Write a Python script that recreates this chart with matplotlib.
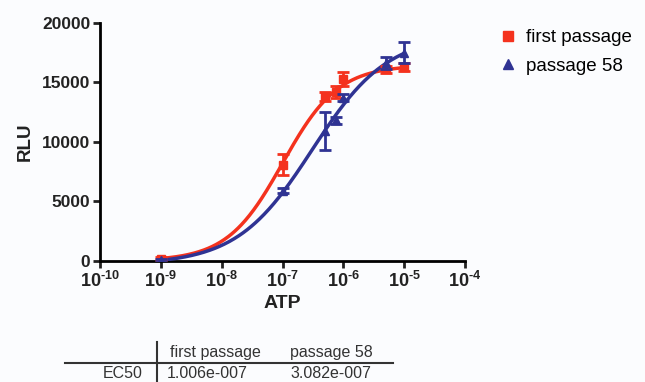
import numpy as np
import matplotlib
matplotlib.use("Agg")
import matplotlib.pyplot as plt
from matplotlib.lines import Line2D

plt.rcParams['font.family'] = ['Liberation Sans', 'DejaVu Sans']
plt.rcParams['mathtext.fontset'] = 'custom'
plt.rcParams['mathtext.rm'] = 'Liberation Sans:bold'
plt.rcParams['mathtext.bf'] = 'Liberation Sans:bold'

# measured points (ATP in M)
atp = [1e-9, 1e-7, 5e-7, 7.5e-7, 1e-6, 5e-6, 1e-5]
first_rlu = [200, 8100, 13800, 14200, 15300, 16100, 16300]
first_err = [150, 900, 400, 500, 600, 300, 300]
p58_rlu = [50, 5900, 10900, 11800, 13700, 16600, 17500]
p58_err = [100, 200, 1600, 300, 300, 500, 900]

# fitted dose-response parameters (bottom, top, hill, EC50)
first_fit = (0, 16450, 0.95, 1.006e-7)
p58_fit = (-300, 19000, 0.7, 3.082e-7)

xticks = [1e-10, 1e-9, 1e-8, 1e-7, 1e-6, 1e-5, 1e-4]
xexp = ['-10', '-9', '-8', '-7', '-6', '-5', '-4']
yticks = [0, 5000, 10000, 15000, 20000]

red = '#f4321e'
blue = '#2f3393'
bg = '#fbfcfe'
dark = '#222222'


def curve(x, p):
    bottom, top, hill, ec50 = p
    return bottom + (top - bottom) / (1 + (ec50 / x) ** hill)


fig = plt.figure(figsize=(6.45, 3.82), dpi=100, facecolor=bg)
ax = fig.add_axes([0.155, 0.317, 0.566, 0.623])
ax.set_facecolor(bg)

xs = np.logspace(-9, -5, 300)
ax.plot(xs, curve(xs, first_fit), color=red, lw=2.5, zorder=3)
ax.plot(xs, curve(xs, p58_fit), color=blue, lw=2.5, zorder=4)

ax.errorbar(atp, first_rlu, yerr=first_err, fmt='s', color=red, ms=6,
            elinewidth=2, capsize=4, capthick=2, zorder=5)
ax.errorbar(atp, p58_rlu, yerr=p58_err, fmt='^', color=blue, ms=6,
            elinewidth=2, capsize=4, capthick=2, zorder=6)

ax.set_xscale('log')
ax.set_xlim(1e-10, 1e-4)
ax.set_ylim(0, 20000)
ax.set_xticks(xticks)
ax.set_xticklabels(['$\\mathbf{10^{\\text{%s}}}$' % e for e in xexp])
ax.minorticks_off()
ax.set_yticks(yticks)
for lab in ax.get_yticklabels():
    lab.set_fontweight('bold')

for s in ['top', 'right']:
    ax.spines[s].set_visible(False)
for s in ['left', 'bottom']:
    ax.spines[s].set_linewidth(2)
ax.tick_params(width=2, length=5, colors=dark, pad=2)
ax.tick_params(axis='y', labelsize=12.5)
ax.tick_params(axis='x', labelsize=13)

ax.set_xlabel('ATP', fontsize=14, fontweight='bold', color=dark, labelpad=3)
ax.set_ylabel('RLU', fontsize=13.5, fontweight='bold', color=dark, labelpad=6)

handles = [Line2D([], [], ls='', marker='s', color=red, ms=7),
           Line2D([], [], ls='', marker='^', color=blue, ms=7)]
ax.legend(handles, ['first passage', 'passage 58'], loc='upper left',
          bbox_to_anchor=(1.045, 1.045), frameon=False, fontsize=13.5,
          handletextpad=0.5, labelspacing=0.6, handlelength=1.0)

# results table
tcol = '#333333'
fig.add_artist(Line2D([65 / 645, 393 / 645], [1 - 363 / 382, 1 - 363 / 382],
                      transform=fig.transFigure, color='#333333', lw=1.5))
fig.add_artist(Line2D([157 / 645, 157 / 645], [1 - 342 / 382, 0.0],
                      transform=fig.transFigure, color='#333333', lw=1.5))
fig.text(170 / 645, 1 - 352 / 382, 'first passage', fontsize=11.5, color=tcol, va='center')
fig.text(290 / 645, 1 - 352 / 382, 'passage 58', fontsize=11.5, color=tcol, va='center')
fig.text(143 / 645, 1 - 373 / 382, 'EC50', fontsize=11.5, color=tcol, va='center', ha='right')
fig.text(167 / 645, 1 - 373 / 382, '1.006e-007', fontsize=11.5, color=tcol, va='center')
fig.text(290 / 645, 1 - 373 / 382, '3.082e-007', fontsize=11.5, color=tcol, va='center')

fig.savefig('out.png', dpi=100, facecolor=bg)
